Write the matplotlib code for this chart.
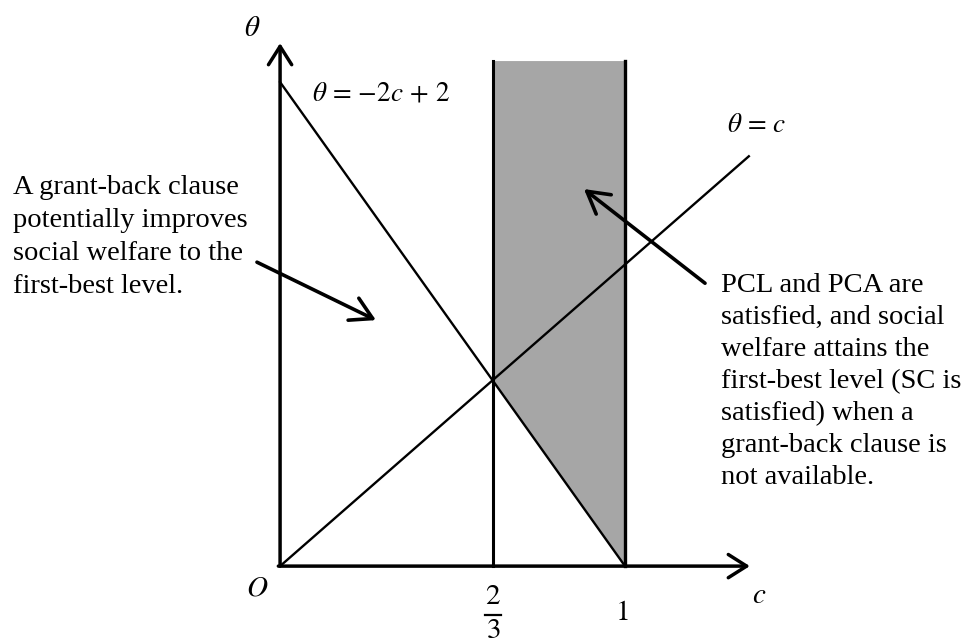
import matplotlib.pyplot as plt
from matplotlib.patches import Polygon

plt.rcParams['mathtext.fontset'] = 'stix'

# --- diagram data (c, theta in drawing units) ---
desc_c = [0.0, 1.0]          # theta = -2c + 2
desc_theta = [1.403, 0.0]
asc_c = [0.0, 1.359]         # theta = c
asc_theta = [0.0, 1.188]
c_two_thirds = 0.617
c_one = 1.0
strip_top = 1.464
theta_axis_top = 1.516
c_axis_end = 1.362

left_note = ("A grant-back clause\npotentially improves\n"
             "social welfare to the\nfirst-best level.")
right_note = ("PCL and PCA are\nsatisfied, and social\nwelfare attains the\n"
              "first-best level (SC is\nsatisfied) when a\n"
              "grant-back clause is\nnot available.")

fig = plt.figure(figsize=(9.72, 6.42), dpi=100)
ax = fig.add_axes([0, 0, 1, 1])
ax.set_xlim(-0.812, 2.006)
ax.set_ylim(-0.220, 1.641)
ax.axis('off')

# --- shaded region ---
theta_at_23 = desc_theta[0] * (1 - c_two_thirds)
shade = Polygon([(c_two_thirds, strip_top), (c_one, strip_top),
                 (c_one, 0), (c_two_thirds, theta_at_23)],
                closed=True, facecolor='#a6a6a6', edgecolor='none', zorder=1)
ax.add_patch(shade)

# --- lines ---
ax.plot(desc_c, desc_theta, color='black', lw=1.7, zorder=3)
ax.plot(asc_c, asc_theta, color='black', lw=1.7, zorder=3)
ax.plot([c_two_thirds, c_two_thirds], [0, strip_top], color='black', lw=2.2, zorder=3)
ax.plot([c_one, c_one], [0, strip_top], color='black', lw=2.4, zorder=3)

# --- axes with arrows ---
axis_arrow = dict(arrowstyle='->,head_length=0.6,head_width=0.38',
                  lw=2.5, color='black', mutation_scale=22, shrinkA=0, shrinkB=0)
ax.annotate('', xy=(0, theta_axis_top), xytext=(0, 0), arrowprops=axis_arrow, zorder=4)
ax.annotate('', xy=(c_axis_end, 0), xytext=(-0.005, 0), arrowprops=axis_arrow, zorder=4)

# --- labels ---
mfs = 21
ax.text(-0.081, 1.559, r'$\theta$', fontsize=mfs, ha='center', va='center')
ax.text(-0.067, -0.061, r'$O$', fontsize=mfs, ha='center', va='center')
ax.text(1.39, -0.085, r'$c$', fontsize=mfs, ha='center', va='center')
ax.text(c_two_thirds, -0.087, r'$2$', fontsize=mfs, ha='center', va='center')
ax.plot([c_two_thirds - 0.024, c_two_thirds + 0.024], [-0.142, -0.142], color='black', lw=1.6)
ax.text(c_two_thirds, -0.185, r'$3$', fontsize=mfs, ha='center', va='center')
ax.text(c_one - 0.01, -0.133, r'$1$', fontsize=mfs, ha='center', va='center')
ax.text(0.093, 1.371, r'$\theta\,=\,{-}2c\,+\,2$', fontsize=19.5, ha='left', va='center')
ax.text(1.296, 1.278, r'$\theta\,=\,c$', fontsize=19.5, ha='left', va='center')

ax.text(-0.774, 0.954, left_note, fontsize=20.5, family='Liberation Serif',
        ha='left', va='center', linespacing=1.42)
ax.text(1.278, 0.535, right_note, fontsize=20.5, family='Liberation Serif',
        ha='left', va='center', linespacing=1.36)

# --- note arrows ---
note_arrow = dict(arrowstyle='->,head_length=0.7,head_width=0.4',
                  lw=2.6, color='black', mutation_scale=22, shrinkA=0, shrinkB=0)
ax.annotate('', xy=(0.278, 0.713), xytext=(-0.067, 0.881), arrowprops=note_arrow, zorder=5)
ax.annotate('', xy=(0.881, 1.093), xytext=(1.232, 0.820), arrowprops=note_arrow, zorder=5)

fig.savefig('out.png', dpi=100)
